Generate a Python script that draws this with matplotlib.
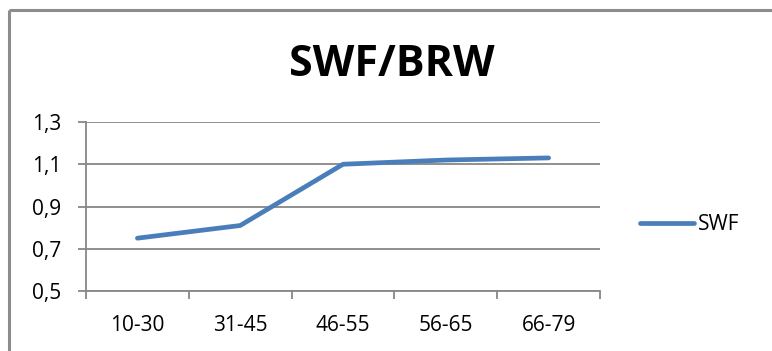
import matplotlib
matplotlib.use("Agg")
import matplotlib.pyplot as plt
from matplotlib.lines import Line2D
import numpy as np

categories = ["10-30", "31-45", "46-55", "56-65", "66-79"]
swf = [0.75, 0.81, 1.10, 1.12, 1.13]
y_ticks = [0.5, 0.7, 0.9, 1.1, 1.3]
y_labels = ["0,5", "0,7", "0,9", "1,1", "1,3"]

plt.rcParams["font.family"] = ["Open Sans", "DejaVu Sans"]

W, H = 772, 351
fig = plt.figure(figsize=(W / 100, H / 100), dpi=100)
fig.patch.set_facecolor("white")

# chart-area frame: top and left edges (the rest runs off the canvas)
frame_c = "#8c8c8c"
fig.add_artist(Line2D([9 / W, 1.05], [1 - 10 / H, 1 - 10 / H], transform=fig.transFigure,
                      color=frame_c, linewidth=2.2, solid_capstyle="butt", clip_on=False))
fig.add_artist(Line2D([9 / W, 9 / W], [-0.05, 1 - 10 / H], transform=fig.transFigure,
                      color=frame_c, linewidth=2.2, solid_capstyle="butt", clip_on=False))

ax = fig.add_axes([86 / W, 1 - 291 / H, (600 - 86) / W, (291 - 122) / H])
grid_c = "#878787"
x = np.arange(len(categories))
ax.plot(x, swf, color="#4a7ebb", linewidth=3.4, solid_capstyle="round",
        solid_joinstyle="round", label="SWF", zorder=3)

ax.set_xlim(-0.5, len(categories) - 0.5)
ax.set_ylim(0.5, 1.3)
ax.set_yticks(y_ticks)
ax.set_yticklabels(y_labels, fontsize=15)
ax.set_xticks(x)
ax.set_xticklabels(categories, fontsize=15)
ax.set_xticks(np.arange(-0.5, len(categories), 1.0), minor=True)
ax.tick_params(axis="x", which="major", length=0, pad=17)
ax.tick_params(axis="x", which="minor", length=6, width=1.3, color=grid_c, direction="out")
ax.tick_params(axis="y", which="major", length=6, width=1.3, color=grid_c, pad=12)

ax.grid(axis="y", color=grid_c, linewidth=1.3, zorder=1)
for s in ["top", "right"]:
    ax.spines[s].set_visible(False)
for s in ["left", "bottom"]:
    ax.spines[s].set_color(grid_c)
    ax.spines[s].set_linewidth(1.3)

fig.text(392 / W, 1 - 64 / H, "SWF/BRW", ha="center", va="center",
         fontsize=31, fontweight="bold")

leg = ax.legend(loc="center left", bbox_to_anchor=(640 / W, 1 - 225 / H),
                bbox_transform=fig.transFigure, frameon=False, fontsize=15,
                handlelength=2.6, handletextpad=0.2, borderpad=0, borderaxespad=0)

fig.savefig("out.png", dpi=100, facecolor="white")
